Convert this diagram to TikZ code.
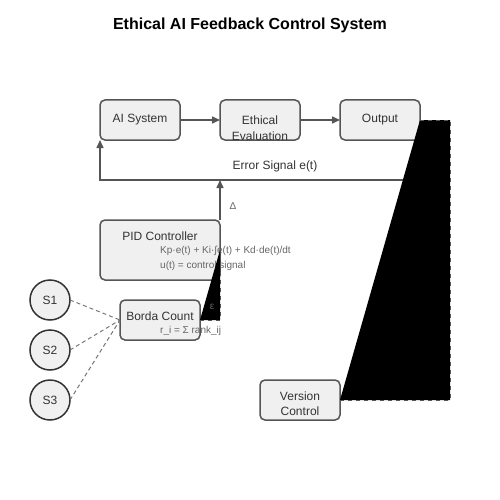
\documentclass[tikz,border=0pt]{standalone}
\usepackage{fontspec}
\setmainfont{Liberation Sans}
\usetikzlibrary{arrows.meta}
\definecolor{boxfill}{HTML}{F0F0F0}
\definecolor{edge}{HTML}{555555}
\definecolor{txt}{HTML}{333333}
\definecolor{subtxt}{HTML}{666666}
\tikzset{
  box/.style={draw=edge, line width=1.5pt, fill=boxfill, rounded corners=5pt, minimum width=80pt, minimum height=40pt, inner sep=0pt, outer sep=0pt},
  bigbox/.style={box, minimum width=120pt, minimum height=60pt},
  circ/.style={circle, draw=txt, line width=1.5pt, fill=boxfill, minimum size=40pt, inner sep=0pt, outer sep=0pt},
  lbl/.style={text=txt, font=\fontsize{12}{14}\selectfont, inner sep=0pt},
  sub/.style={text=subtxt, font=\fontsize{10}{12}\selectfont, inner sep=0pt, anchor=west},
  arr/.style={draw=edge, line width=1.5pt, -{Triangle[length=8pt,width=7pt]}},
  vote/.style={draw=edge!80, line width=1pt, dash pattern=on 4pt off 3pt},
  blackfill/.style={draw=edge, line width=1pt, dash pattern=on 4pt off 4pt, fill=black},
}
\begin{document}
\begin{tikzpicture}[x=1pt,y=-1pt]
\useasboundingbox[fill=white] (0,0) rectangle (500,500);
\node[font=\bfseries\fontsize{16}{19}\selectfont, inner sep=0pt] (title) at (250,25) {Ethical AI Feedback Control System};

% main boxes
\node[box] (ai) at (140,120) {};
\node[box] (eth) at (260,120) {};
\node[box] (out) at (380,120) {};
\node[lbl] (tai) at (ai.center) {AI System};
\node[lbl] (teth1) at (260,120) {Ethical};
\node[lbl] (teth2) at (260,136) {Evaluation};
\node[lbl] (tout) at (out.center) {Output};

\draw[arr] (ai.east) -- (eth.west);
\draw[arr] (eth.east) -- (out.west);

% feedback
\coordinate (fbr) at (450,180);
\coordinate (fbl) at (100,180);
\draw[arr] (fbr) -- (fbl) -- (ai.south west -| fbl);
\node[lbl] (terr) at (275,166) {Error Signal e(t)};

% PID
\node[bigbox] (pid) at (160,250) {};
\node[lbl] (tpid) at (160,236) {PID Controller};
\node[sub] (f1) at (160,251) {Kp·e(t) + Ki·∫e(t) + Kd·de(t)/dt};
\node[sub] (f2) at (160,266) {u(t) = control signal};
\coordinate (fbm) at (220,180);
\draw[arr] (pid.north east) -- (fbm);
\node[sub, anchor=center] (delta) at (233,206) {Δ};

% Borda
\node[box] (borda) at (160,320) {};
\node[lbl] (tborda) at (160,316) {Borda Count};
\node[sub] (f3) at (160,331) {r\_i = Σ rank\_ij};

% stakeholders
\node[circ] (s1) at (50,300) {};
\node[circ] (s2) at (50,350) {};
\node[circ] (s3) at (50,400) {};
\node[lbl] at (s1.center) {S1};
\node[lbl] at (s2.center) {S2};
\node[lbl] at (s3.center) {S3};
\draw[vote] (s1.east) -- (borda.west);
\draw[vote] (s2.east) -- (borda.west);
\draw[vote] (s3.east) -- (borda.west);

% version control
\node[box] (vc) at (300,400) {};
\node[lbl] (tvc1) at (300,396) {Version};
\node[lbl] (tvc2) at (300,411) {Control};

% filled dashed paths
\coordinate (bc) at (220,320);
\draw[blackfill] (borda.east) -- (bc) -- (pid.east);
\node[sub, anchor=center] (eps) at (212,307) {ε};
\coordinate (vc1) at (450,120);
\coordinate (vc2) at (450,400);
\draw[blackfill] (out.east) -- (vc1) -- (vc2) -- (vc.east);
\end{tikzpicture}
\end{document}
